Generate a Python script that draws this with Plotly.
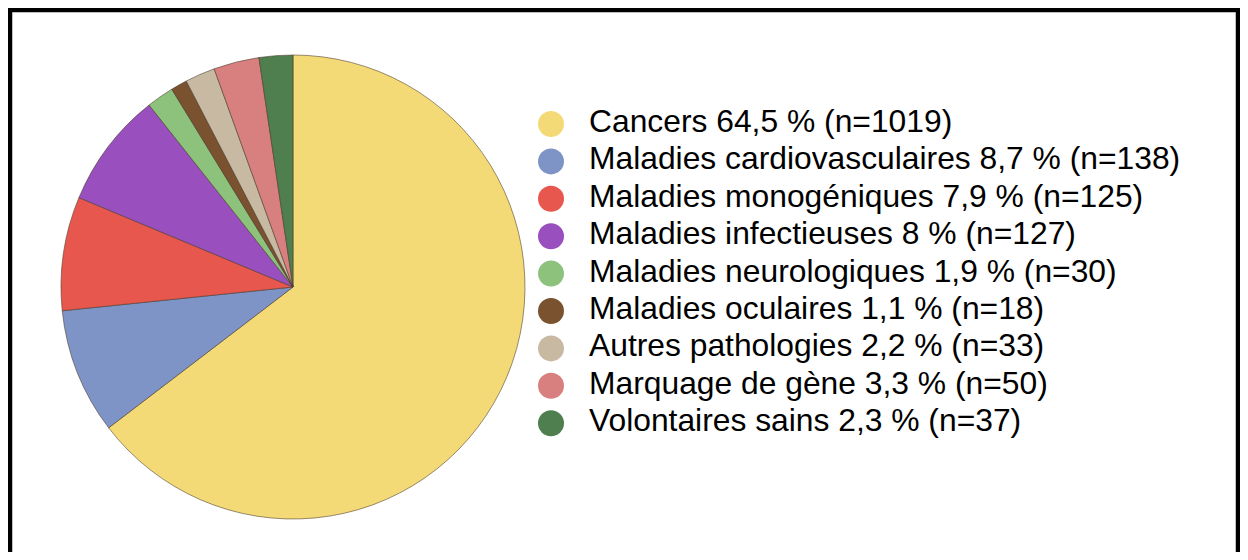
import plotly.graph_objects as go

categories = [
    "Cancers", "Maladies cardiovasculaires", "Maladies monogéniques",
    "Maladies infectieuses", "Maladies neurologiques", "Maladies oculaires",
    "Autres pathologies", "Marquage de gène", "Volontaires sains",
]
percent_labels = ["64,5", "8,7", "7,9", "8", "1,9", "1,1", "2,2", "3,3", "2,3"]
counts = [1019, 138, 125, 127, 30, 18, 33, 50, 37]
colors = ["#F4DA76", "#7F94C6", "#E8574D", "#9A4FBF", "#8CC27C",
          "#7A5230", "#C8B9A3", "#D88080", "#4F7E4F"]

# figure size (page has an 8 px body margin on every side)
W, H = 1232, 544
labels_text = [f"{c} {p} % (n={n})" for c, p, n in zip(categories, percent_labels, counts)]
rows = list(range(len(categories)))

fig = go.Figure()

# Pie placement (pixels inside the figure)
cx, cy, r = 285, 279, 232
fig.add_trace(go.Pie(
    labels=categories, values=counts, sort=False,
    direction="clockwise", rotation=0,
    marker=dict(colors=colors, line=dict(color="rgba(70,55,40,0.55)", width=1)),
    textinfo="none", hoverinfo="label+value", showlegend=False,
    domain=dict(x=[(cx - r) / W, (cx + r) / W], y=[1 - (cy + r) / H, 1 - (cy - r) / H]),
))

# Custom legend with circular markers
row0, step = 116, 37.4
fig.add_trace(go.Scatter(
    x=[543] * len(rows), y=rows, mode="markers",
    marker=dict(color=colors, size=26, line=dict(width=0)),
    showlegend=False, hoverinfo="skip", cliponaxis=False,
))
fig.add_trace(go.Scatter(
    x=[581] * len(rows), y=rows, mode="text", text=labels_text,
    textposition="middle right",
    textfont=dict(family="Liberation Sans, Arial, sans-serif", size=31.8, color="#000000"),
    showlegend=False, hoverinfo="skip", cliponaxis=False,
))

fig.update_xaxes(visible=False, range=[0, W], domain=[0, 1], fixedrange=True)
fig.update_yaxes(visible=False, range=[(H - row0) / step, -row0 / step], domain=[0, 1], fixedrange=True)

fig.update_layout(
    width=W, height=H,
    margin=dict(l=0, r=0, t=0, b=0),
    paper_bgcolor="white", plot_bgcolor="rgba(0,0,0,0)",
    shapes=[dict(type="rect", xref="paper", yref="paper",
                 x0=2 / W, x1=(W - 2) / W, y0=-0.05, y1=1 - 2 / H,
                 line=dict(color="black", width=4.5), fillcolor="rgba(0,0,0,0)", layer="above")],
)

fig.write_html("out.html")
